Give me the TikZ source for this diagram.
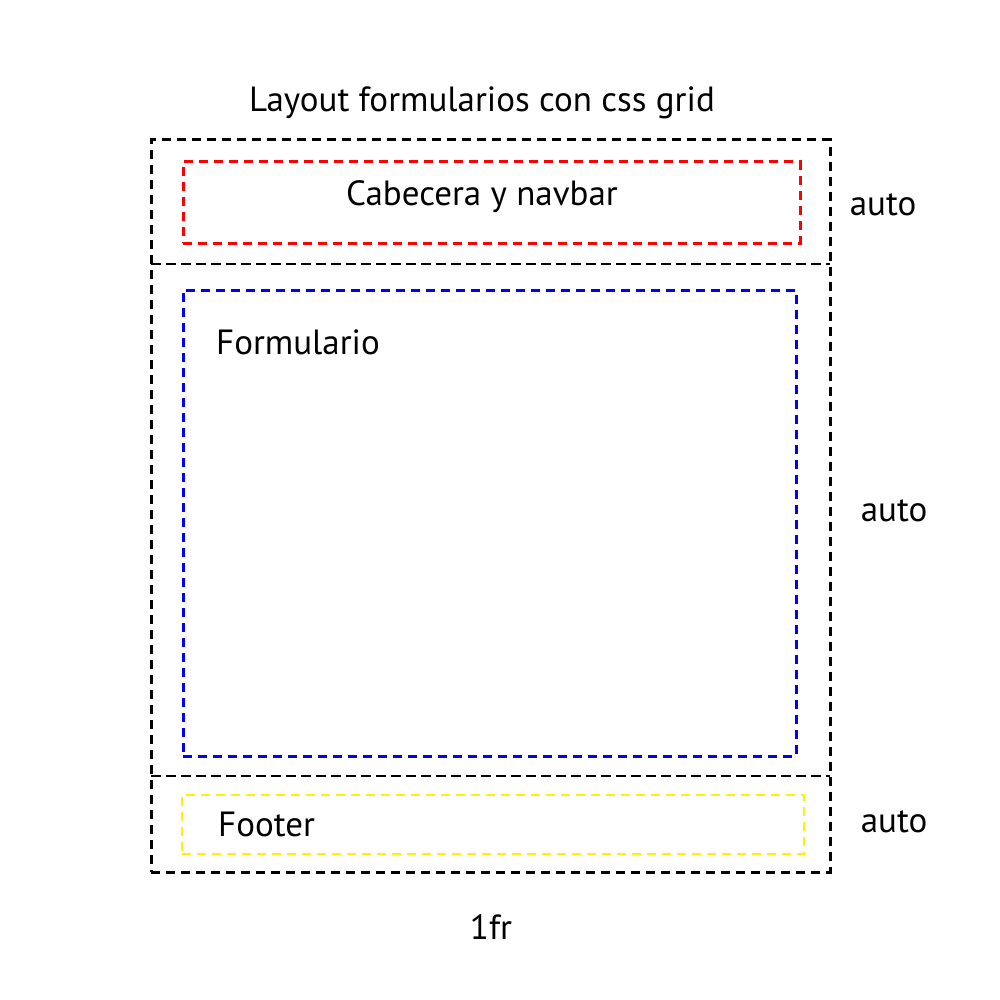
\documentclass[tikz,border=0pt]{standalone}
\usepackage{fontspec}
\setmainfont{PT Sans}
\begin{document}
\begin{tikzpicture}[x=1pt,y=-1pt,
  outer/.style={draw=black,line width=3pt,dash pattern=on 9pt off 6pt},
  divider/.style={draw=black,line width=1.2pt,dash pattern=on 10pt off 5pt},
  area/.style={line width=3pt,dash pattern=on 9pt off 6pt},
  lbl/.style={font=\fontsize{35}{42}\selectfont,inner sep=0pt}]
\useasboundingbox[fill=white] (0,0) rectangle (1000,1000);
\node[lbl] (title) at (482,103) {Layout formularios con css grid};
\node[outer,minimum width=679pt,minimum height=732pt,inner sep=0pt] (grid) at (490.5,506) {};
\coordinate (d1l) at (151,264); \coordinate (d1r) at (830,264);
\coordinate (d2l) at (151,776); \coordinate (d2r) at (830,776);
\draw[divider] (d1l) -- (d1r);
\draw[divider] (d2l) -- (d2r);
\node[area,draw=red,minimum width=617pt,minimum height=81pt,inner sep=0pt] (header) at (491.5,202.5) {};
\node[lbl] (headertxt) at (482,197) {Cabecera y navbar};
\node[area,draw=blue,minimum width=613pt,minimum height=466pt,inner sep=0pt] (form) at (489.5,523) {};
\node[lbl,anchor=west] (formtxt) at (216,342) {Formulario};
\node[area,draw=yellow,line width=2.5pt,minimum width=622pt,minimum height=59pt,inner sep=0pt] (footer) at (493,824.5) {};
\node[lbl,anchor=west] (footertxt) at (218,824) {Footer};
\node[lbl] (a1) at (883,205) {auto};
\node[lbl] (a2) at (894,511) {auto};
\node[lbl] (a3) at (894,822) {auto};
\node[lbl] (fr) at (491,927) {1fr};
\end{tikzpicture}
\end{document}
